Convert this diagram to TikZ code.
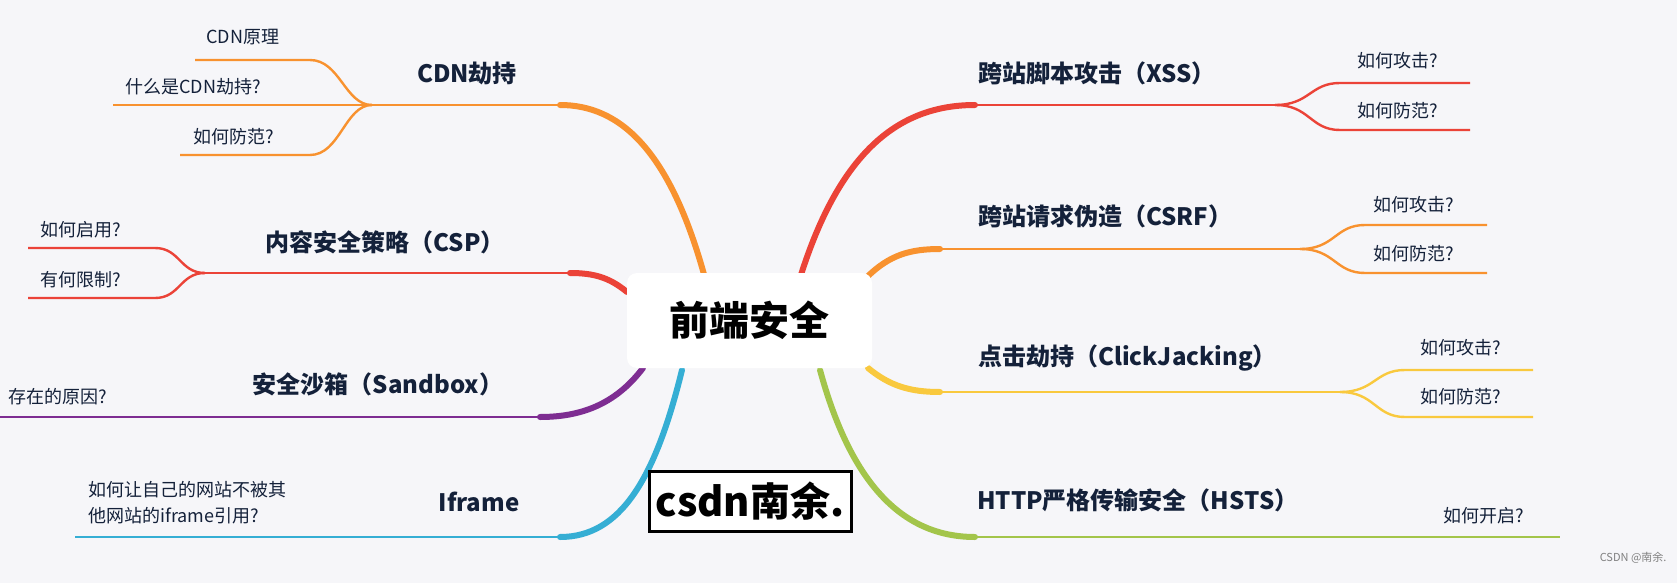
\documentclass[tikz,border=0pt]{standalone}
\usepackage{fontspec}
\setmainfont{Noto Sans CJK SC}
\definecolor{bg}{HTML}{F6F6F9}
\definecolor{cred}{HTML}{EB4338}
\definecolor{corg}{HTML}{F8922F}
\definecolor{cyel}{HTML}{F9C93E}
\definecolor{cgrn}{HTML}{A3C54B}
\definecolor{cpur}{HTML}{7E2D92}
\definecolor{cblu}{HTML}{35AED4}
\definecolor{ctxt}{HTML}{14213A}
\begin{document}
\begin{tikzpicture}[x=1pt,y=-1pt,
  main/.style={font=\fontsize{24}{28}\selectfont\bfseries, text=ctxt, inner sep=0pt},
  sub/.style={font=\fontsize{18}{22}\selectfont, text=ctxt, inner sep=0pt},
  trunk/.style={line width=6pt, line cap=round},
  twig/.style={line width=2.4pt}]
\fill[bg] (0,0) rectangle (1677,583);
\useasboundingbox (0,0) rectangle (1677,583);
% right
\coordinate (cx1) at (800,278);
\coordinate (rx1) at (975,105); \coordinate (rx2) at (1275,105);
\draw[trunk,cred] (cx1) .. controls (840,150) and (900,105) .. (rx1);
\draw[twig,cred] (rx1) -- (rx2);
\draw[twig,cred] (rx2) .. controls (1310,105) and (1310,83) .. (1340,83) -- (1470,83);
\draw[twig,cred] (rx2) .. controls (1310,105) and (1310,130) .. (1340,130) -- (1470,130);
\node[main,anchor=west] (xss) at (978,73) {跨站脚本攻击（XSS）};
\node[sub,anchor=west] (xa) at (1357,61) {如何攻击?};
\node[sub,anchor=west] (xb) at (1357,111) {如何防范?};

\coordinate (cx2) at (868,276);
\coordinate (rc1) at (940,249); \coordinate (rc2) at (1300,249);
\draw[trunk,corg] (cx2) .. controls (890,255) and (910,249) .. (rc1);
\draw[twig,corg] (rc1) -- (rc2);
\draw[twig,corg] (rc2) .. controls (1335,249) and (1335,225) .. (1365,225) -- (1487,225);
\draw[twig,corg] (rc2) .. controls (1335,249) and (1335,273) .. (1365,273) -- (1487,273);
\node[main,anchor=west] (csrf) at (978,216) {跨站请求伪造（CSRF）};
\node[sub,anchor=west] at (1373,205) {如何攻击?};
\node[sub,anchor=west] at (1373,254) {如何防范?};

\coordinate (cx3) at (868,368);
\coordinate (rk1) at (940,392); \coordinate (rk2) at (1340,392);
\draw[trunk,cyel] (cx3) .. controls (890,386) and (910,392) .. (rk1);
\draw[twig,cyel] (rk1) -- (rk2);
\draw[twig,cyel] (rk2) .. controls (1375,392) and (1375,370) .. (1405,370) -- (1533,370);
\draw[twig,cyel] (rk2) .. controls (1375,392) and (1375,417) .. (1405,417) -- (1533,417);
\node[main,anchor=west] (cj) at (978,358) {点击劫持（ClickJacking）};
\node[sub,anchor=west] at (1420,348) {如何攻击?};
\node[sub,anchor=west] at (1420,397) {如何防范?};

\coordinate (cx4) at (820,370);
\coordinate (rh1) at (975,537); \coordinate (rh2) at (1560,537);
\draw[trunk,cgrn] (cx4) .. controls (850,480) and (900,537) .. (rh1);
\draw[twig,cgrn] (rh1) -- (rh2);
\node[main,anchor=west] (hsts) at (977,500) {HTTP严格传输安全（HSTS）};
\node[sub,anchor=west] at (1443,516) {如何开启?};

% left
\coordinate (cl1) at (705,278);
\coordinate (lc1) at (560,105); \coordinate (lc2) at (372,105);
\draw[trunk,corg] (cl1) .. controls (670,150) and (620,105) .. (lc1);
\draw[twig,corg] (lc1) -- (lc2);
\draw[twig,corg] (lc2) .. controls (345,105) and (340,60) .. (310,60) -- (195,60);
\draw[twig,corg] (lc2) -- (113,105);
\draw[twig,corg] (lc2) .. controls (345,105) and (340,155) .. (310,155) -- (180,155);
\node[main] (cdn) at (467,73) {CDN劫持};
\node[sub,anchor=west] at (206,37) {CDN原理};
\node[sub,anchor=west] at (125,87) {什么是CDN劫持?};
\node[sub,anchor=west] at (193,137) {如何防范?};

\coordinate (cl2) at (627,292);
\coordinate (lp1) at (570,273); \coordinate (lp2) at (205,273);
\draw[trunk,cred] (cl2) .. controls (610,278) and (595,273) .. (lp1);
\draw[twig,cred] (lp1) -- (lp2);
\draw[twig,cred] (lp2) .. controls (180,273) and (180,248) .. (155,248) -- (28,248);
\draw[twig,cred] (lp2) .. controls (180,273) and (180,298) .. (155,298) -- (28,298);
\node[main] (csp) at (385,242) {内容安全策略（CSP）};
\node[sub,anchor=west] at (40,230) {如何启用?};
\node[sub,anchor=west] at (40,280) {有何限制?};

\coordinate (cl3) at (643,368);
\coordinate (ls1) at (540,417); \coordinate (ls2) at (0,417);
\draw[trunk,cpur] (cl3) .. controls (615,405) and (580,417) .. (ls1);
\draw[twig,cpur] (ls1) -- (ls2);
\node[main] (sb) at (378,384) {安全沙箱（Sandbox）};
\node[sub,anchor=west] at (8,397) {存在的原因?};

\coordinate (cl4) at (682,370);
\coordinate (li1) at (560,537); \coordinate (li2) at (75,537);
\draw[trunk,cblu] (cl4) .. controls (655,480) and (620,537) .. (li1);
\draw[twig,cblu] (li1) -- (li2);
\node[main] (ifr) at (479,502) {Iframe};
\node[sub,anchor=west,align=left,font=\fontsize{18}{26}\selectfont] at (88,503) {如何让自己的网站不被其\\他网站的iframe引用?};

% center
\node[fill=white, rounded corners=10pt, minimum width=245pt, minimum height=95pt,
  font=\fontsize{40}{44}\selectfont\bfseries, text=black] (root) at (749.5,320.5) {前端安全};
% watermark
\node[draw=black, line width=3pt, fill=white, minimum width=202pt, minimum height=60pt, inner sep=0pt,
  font=\fontsize{40}{40}\selectfont\bfseries, text=black] (wm) at (750,501) {csdn南余.};
\node[font=\fontsize{11}{12}\selectfont, text=gray, anchor=east] (cs) at (1670,558) {CSDN @南余.};
\end{tikzpicture}
\end{document}
